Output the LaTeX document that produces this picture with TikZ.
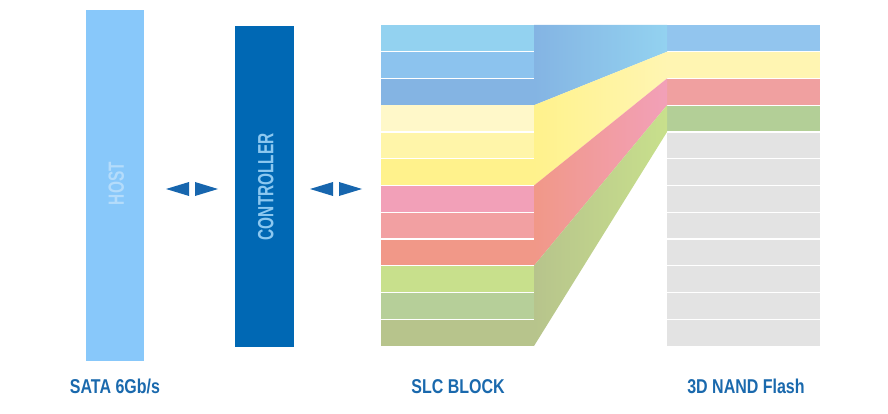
\documentclass[tikz,border=0pt]{standalone}
\usepackage{fontspec}
\setmainfont{Liberation Sans}
\newfontfamily\condfont{Liberation Sans}[FakeStretch=0.8, BoldFont={Liberation Sans Bold}]
\newfontfamily\narrowfont{Liberation Sans}[FakeStretch=0.7, BoldFont={Liberation Sans Bold}]
\usetikzlibrary{calc, positioning}

\definecolor{hostblue}{HTML}{88C8FA}
\definecolor{hosttext}{HTML}{B4DCFB}
\definecolor{ctrlblue}{HTML}{0068B4}
\definecolor{ctrltext}{HTML}{8CC8F0}
\definecolor{arrowblue}{HTML}{1766AE}
\definecolor{labelblue}{HTML}{1A69AD}
% SLC block rows
\definecolor{slcA}{HTML}{93D2F0}
\definecolor{slcB}{HTML}{8CC3EE}
\definecolor{slcC}{HTML}{84B4E3}
\definecolor{slcD}{HTML}{FFF8C9}
\definecolor{slcE}{HTML}{FFF5A9}
\definecolor{slcF}{HTML}{FFF28C}
\definecolor{slcG}{HTML}{F2A0B8}
\definecolor{slcH}{HTML}{F2A0A2}
\definecolor{slcI}{HTML}{F19888}
\definecolor{slcJ}{HTML}{C8E08C}
\definecolor{slcK}{HTML}{B6CF99}
\definecolor{slcL}{HTML}{B7C48C}
% NAND rows
\definecolor{nandblue}{HTML}{92C5EE}
\definecolor{nandyellow}{HTML}{FFF5B2}
\definecolor{nandred}{HTML}{F0A0A0}
\definecolor{nandgreen}{HTML}{B3CF97}
\definecolor{nandgray}{HTML}{E3E3E3}

\begin{document}
\begin{tikzpicture}[x=1pt, y=-1pt,
    bar/.style={inner sep=0, anchor=north west, minimum width=58pt},
    bartext/.style={rotate=90, inner sep=0, font=\narrowfont\bfseries\fontsize{22}{26}\selectfont},
    caption/.style={anchor=base, inner sep=0, text=labelblue, font=\condfont\bfseries\fontsize{20}{24}\selectfont},
    sep/.style={white, line width=1.2pt}]
    \useasboundingbox (0,0) rectangle (888,414);

    % Host and controller
    \node[bar, fill=hostblue, minimum height=351pt] (host) at (86,10) {};
    \node[bar, fill=ctrlblue, minimum height=321pt, minimum width=59pt] (ctrl) at (235,26) {};
    \node[bartext, text=hosttext] (hostlbl) at ($(host.center)+(1,-2)$) {HOST};
    \node[bartext, text=ctrltext] (ctrllbl) at ($(ctrl.center)+(1,0)$) {CONTROLLER};

    % Double arrows between the blocks
    \coordinate (arrA) at (192,189);
    \coordinate (arrB) at (336,189);
    \foreach \c in {arrA, arrB} {
        \fill[arrowblue] ($(\c)+(-26,0)$) -- ($(\c)+(-3,-7)$) -- ($(\c)+(-3,7)$) -- cycle;
        \fill[arrowblue] ($(\c)+(26,0)$) -- ($(\c)+(3,-7)$) -- ($(\c)+(3,7)$) -- cycle;
    }

    % SLC block: 12 rows
    \foreach \c [count=\i from 0] in {slcA,slcB,slcC,slcD,slcE,slcF,slcG,slcH,slcI,slcJ,slcK,slcL}
        \fill[\c] (381,{25+26.75*\i}) rectangle (534,{25+26.75*(\i+1)});
    \foreach \i in {1,2,4,5,6,7,8,9,10,11}
        \draw[sep] (381,{25+26.75*\i}) -- (534,{25+26.75*\i});

    % 3D NAND flash: 4 coloured rows, 8 grey rows
    \foreach \c [count=\i from 0] in {nandblue,nandyellow,nandred,nandgreen,nandgray,nandgray,
            nandgray,nandgray,nandgray,nandgray,nandgray,nandgray}
        \fill[\c] (667,{25+26.75*\i}) rectangle (820,{25+26.75*(\i+1)});
    \foreach \i in {1,...,11}
        \draw[sep] (667,{25+26.75*\i}) -- (820,{25+26.75*\i});

    % Bands from SLC groups into the NAND rows
    \shade[left color=slcC, right color=slcA]
        (534,25) -- (667,25) -- (667,51.75) -- (534,105.25) -- cycle;
    \shade[left color=slcF, right color=nandyellow]
        (534,105.25) -- (667,51.75) -- (667,78.5) -- (534,185.5) -- cycle;
    \shade[left color=slcI, right color=slcG]
        (534,185.5) -- (667,78.5) -- (667,105.25) -- (534,265.75) -- cycle;
    \shade[left color=slcL, right color=slcJ]
        (534,265.75) -- (667,105.25) -- (667,132) -- (534,346) -- cycle;

    % Captions
    \node[caption] (sata) at (115,393) {SATA 6Gb/s};
    \node[caption] (slc) at (458,393) {SLC BLOCK};
    \node[caption] (nand) at (746,393) {3D NAND Flash};
\end{tikzpicture}
\end{document}
